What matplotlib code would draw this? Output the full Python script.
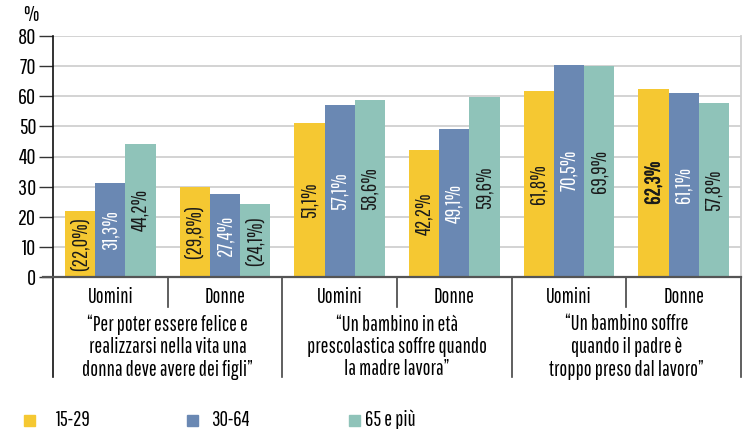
import matplotlib
matplotlib.use("Agg")
import matplotlib.pyplot as plt
import matplotlib.transforms as mtransforms
import matplotlib.patheffects as pe

# ---- data ----
sub_labels = ["Uomini", "Donne", "Uomini", "Donne", "Uomini", "Donne"]
group_labels = [
    "\u201cPer poter essere felice e\nrealizzarsi nella vita una\ndonna deve avere dei figli\u201d",
    "\u201cUn bambino in et\u00e0\nprescolastica soffre quando\nla madre lavora\u201d",
    "\u201cUn bambino soffre\nquando il padre \u00e8\ntroppo preso dal lavoro\u201d",
]
series_names = ["15-29", "30-64", "65 e pi\u00f9"]
v_15_29 = [22.0, 29.8, 51.1, 42.2, 61.8, 62.3]
v_30_64 = [31.3, 27.4, 57.1, 49.1, 70.5, 61.1]
v_65 = [44.2, 24.1, 58.6, 59.6, 69.9, 57.8]
labels_15_29 = ["(22,0%)", "(29,8%)", "51,1%", "42,2%", "61,8%", "62,3%"]
labels_30_64 = ["31,3%", "27,4%", "57,1%", "49,1%", "70,5%", "61,1%"]
labels_65 = ["44,2%", "(24,1%)", "58,6%", "59,6%", "69,9%", "57,8%"]
bold_15_29 = [False, False, False, False, False, True]
yticks = [0, 10, 20, 30, 40, 50, 60, 70, 80]

# ---- style ----
plt.rcParams["font.family"] = ["Pathway Gothic One", "Archivo Narrow", "DejaVu Sans"]

colors = ["#F5C832", "#6A88B3", "#8FC3B9"]
text_colors = ["#1a1a1a", "#ffffff", "#1a1a1a"]
grid_c = "#d0d0d0"
FS = 15

W, H = 747, 429
fig = plt.figure(figsize=(W / 100, H / 100), dpi=100)
left, right, top, bottom = 53, 741, 36, 277
ax = fig.add_axes([left / W, 1 - bottom / H, (right - left) / W, (bottom - top) / H])
ax.set_xlim(0, 6)
ax.set_ylim(0, 80)

bw = 0.263
series = [v_15_29, v_30_64, v_65]
labs = [labels_15_29, labels_30_64, labels_65]
n = len(sub_labels)
for s, (vals, lab) in enumerate(zip(series, labs)):
    xs = [i + 0.5 + (s - 1) * bw for i in range(n)]
    ax.bar(xs, vals, width=bw, color=colors[s], zorder=3, linewidth=0)
    for i, (x, v, t) in enumerate(zip(xs, vals, lab)):
        bold = (s == 0 and bold_15_29[i])
        txt = ax.text(x, v / 2, t, rotation=90, ha="center", va="center",
                      fontsize=FS, color=text_colors[s], zorder=4)
        if bold:
            txt.set_path_effects([pe.withStroke(linewidth=0.5, foreground=text_colors[s])])

# gridlines
for y in yticks[1:]:
    ax.axhline(y, color=grid_c, lw=1.3, zorder=1)

ax.set_yticks(yticks)
ax.set_xticks([])
ax.tick_params(axis="y", length=10, width=1, color="#333333", labelsize=FS + 1, pad=2)
for sp in ["top", "right", "bottom"]:
    ax.spines[sp].set_visible(False)
ax.spines["left"].set_color("#111111")
ax.spines["left"].set_linewidth(1.2)

trans_fig = fig.transFigure
ax.plot([-0.09, 6.0], [0, 0], color="#555555", lw=1.6, clip_on=False, zorder=5)

fig.text(23 / W, 1 - 15 / H, "%", fontsize=FS + 1, ha="left", va="center")

blend = mtransforms.blended_transform_factory(ax.transData, ax.transAxes)
h_ax = bottom - top
short_end = -(307 - bottom) / h_ax
long_end = -(377 - bottom) / h_ax
for xv in [1, 3, 5]:
    ax.plot([xv, xv], [0, short_end], transform=blend, color="#444444", lw=1.2, clip_on=False)
for xv in [0, 2, 4, 6]:
    ax.plot([xv, xv], [0, long_end], transform=blend,
            color="#111111" if xv == 0 else "#444444", lw=1.2, clip_on=False)
ax.plot([6, 6], [0, 1], transform=blend, color=grid_c, lw=1.3, clip_on=False)

for i, t in enumerate(sub_labels):
    ax.text(i + 0.5, -(297 - bottom) / h_ax, t, transform=blend, ha="center", va="center",
            fontsize=FS)
for g, t in enumerate(group_labels):
    ax.text(2 * g + 1, -(347 - bottom) / h_ax, t, transform=blend, ha="center", va="center",
            fontsize=FS, linespacing=1.15)

# legend
leg_x = [24, 187, 349]
txt_x = [56, 211, 365]
for s in range(3):
    fig.patches.append(plt.Rectangle((leg_x[s] / W, 1 - 426 / H), 11 / W, 11 / H,
                                     transform=trans_fig, color=colors[s]))
    fig.text(txt_x[s] / W, 1 - 420 / H, series_names[s], fontsize=FS, ha="left", va="center")

fig.savefig("out.png", dpi=100)
